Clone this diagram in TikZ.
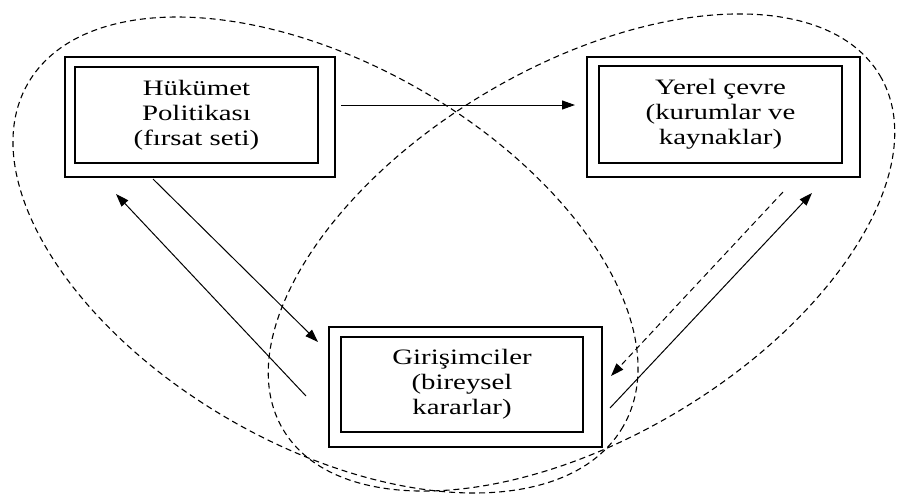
\documentclass[tikz,border=0pt]{standalone}
\usepackage{fontspec}
\usepackage{graphicx}
\setmainfont{Liberation Serif}
\usetikzlibrary{arrows.meta}

% box label: three centred lines, set wide
\newcommand{\boxlabel}[3]{%
  \scalebox{1.31}[1]{\fontsize{22}{25}\selectfont
    \begin{tabular}{@{}c@{}}#1\\#2\\#3\end{tabular}}}

\tikzset{
  outerbox/.style={draw, line width=1.2pt, rectangle, inner sep=0pt},
  innerbox/.style={draw, line width=1.2pt, rectangle, inner sep=0pt, align=center},
  link/.style={line width=1pt, -{Triangle[length=13pt,width=9pt]}},
  dashlink/.style={link, dash pattern=on 6pt off 4pt},
  region/.style={line width=1.1pt, dash pattern=on 6pt off 4pt}
}

\begin{document}
\begin{tikzpicture}[x=1pt, y=-1pt]
  \useasboundingbox[fill=white] (0,0) rectangle (898,499);

  % overlapping dashed regions
  \draw[region, rotate around={-29.94:(325.5,255)}]
    (325.5,255) ellipse [x radius=343.5, y radius=190.5];
  \draw[region, rotate around={30.66:(581.5,252.5)}]
    (581.5,252.5) ellipse [x radius=347, y radius=186];

  % government policy
  \node[outerbox, minimum width=270pt, minimum height=120pt] (hOut) at (200,117) {};
  \node[innerbox, minimum width=243pt, minimum height=96pt] (hIn) at (196.5,115)
    {\boxlabel{Hükümet}{Politikası}{(fırsat seti)}};

  % local environment
  \node[outerbox, minimum width=273pt, minimum height=120pt] (yOut) at (723.5,117) {};
  \node[innerbox, minimum width=243pt, minimum height=97pt] (yIn) at (720.5,114.5)
    {\boxlabel{Yerel çevre}{(kurumlar ve}{kaynaklar)}};

  % entrepreneurs
  \node[outerbox, minimum width=273pt, minimum height=120pt] (gOut) at (465.5,387) {};
  \node[innerbox, minimum width=242pt, minimum height=95pt] (gIn) at (462,384.5)
    {\boxlabel{Girişimciler}{(bireysel}{kararlar)}};

  % connector end points beside the boxes
  \coordinate (hR) at (341,105);
  \coordinate (yL) at (575,105);
  \coordinate (hB1) at (153,179);
  \coordinate (gL1) at (318,342);
  \coordinate (gL2) at (306,396);
  \coordinate (hB2) at (116,194);
  \coordinate (yB1) at (783,192);
  \coordinate (gR1) at (611,376);
  \coordinate (gR2) at (610,408);
  \coordinate (yB2) at (812,193);

  \draw[link] (hR) -- (yL);
  \draw[link] (hB1) -- (gL1);
  \draw[link] (gL2) -- (hB2);
  \draw[dashlink] (yB1) -- (gR1);
  \draw[link] (gR2) -- (yB2);
\end{tikzpicture}
\end{document}
